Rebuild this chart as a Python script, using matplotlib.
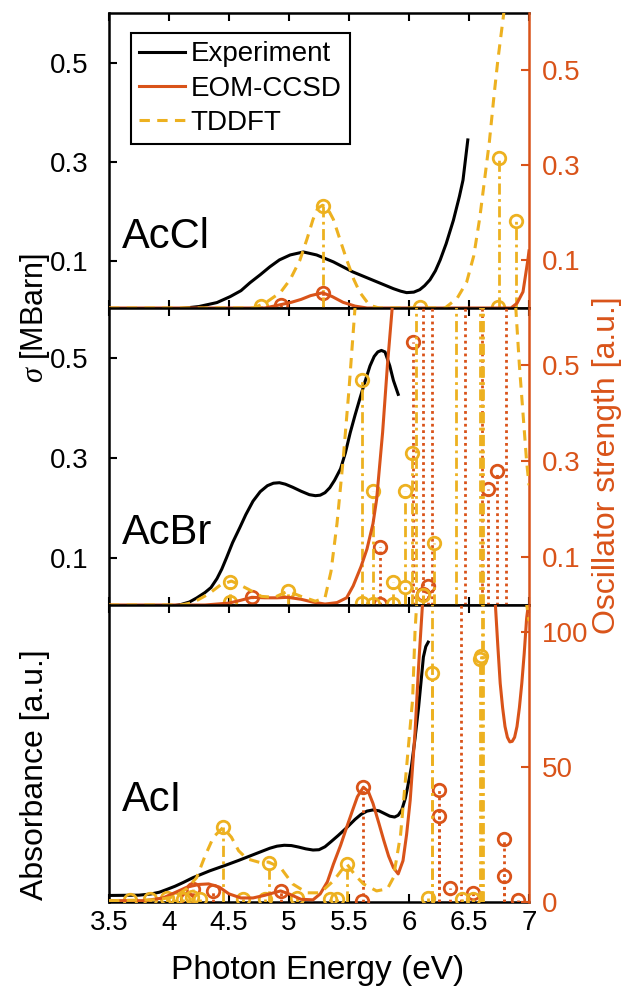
import matplotlib
matplotlib.use('Agg')
import matplotlib.pyplot as plt
from matplotlib import font_manager

plt.rcParams['font.family'] = ['Liberation Sans', 'DejaVu Sans']
plt.rcParams['mathtext.fontset'] = 'custom'
plt.rcParams['mathtext.rm'] = 'Liberation Sans'
plt.rcParams['mathtext.it'] = 'Liberation Serif:italic'
plt.rcParams['lines.solid_joinstyle'] = 'round'
plt.rcParams['lines.dash_joinstyle'] = 'round'

_installed = {f.name for f in font_manager.fontManager.ttflist}
LABEL_FONT = ['Liberation Sans Narrow', 'Liberation Sans'] if 'Liberation Sans Narrow' in _installed \
    else ['Liberation Sans']

C_EXP = 'black'
C_EOM = '#D95319'
C_TD = '#EDB120'

# ---------------- AcCl ----------------
cl_exp_E = [4.10, 4.25, 4.40, 4.51, 4.60, 4.675, 4.76, 4.84, 4.92, 5.01, 5.12, 5.23, 5.37,
            5.53, 5.73, 5.87, 5.93, 5.98, 6.04, 6.09, 6.13, 6.175, 6.22, 6.26, 6.31, 6.37,
            6.42, 6.45, 6.49]
cl_exp_s = [0.004, 0.008, 0.016, 0.028, 0.040, 0.056, 0.072, 0.088, 0.102, 0.112, 0.118, 0.112,
            0.098, 0.078, 0.058, 0.044, 0.039, 0.036, 0.037, 0.042, 0.050, 0.062, 0.080, 0.102,
            0.135, 0.182, 0.230, 0.263, 0.344]

cl_td_curve_E = [3.5, 4.70, 4.80, 4.93, 5.01, 5.09, 5.15, 5.20, 5.24, 5.28, 5.32, 5.37, 5.43,
                 5.48, 5.54, 5.59, 5.67, 5.75, 6.30, 6.40, 6.48, 6.54, 6.59, 6.63, 6.67, 6.71,
                 6.74, 6.78, 6.81]
cl_td_curve_f = [0.0, 0.0, 0.01, 0.033, 0.06, 0.10, 0.145, 0.186, 0.21, 0.216, 0.21, 0.186, 0.14,
                 0.102, 0.06, 0.033, 0.006, 0.0, 0.0, 0.02, 0.054, 0.11, 0.19, 0.27, 0.35, 0.45,
                 0.52, 0.60, 0.66]
cl_eom_curve_E = [3.5, 4.80, 4.93, 5.02, 5.10, 5.18, 5.28, 5.36, 5.45, 5.55, 5.65, 6.85, 6.90,
                  6.95, 6.99, 7.0]
cl_eom_curve_f = [0.0, 0.0, 0.007, 0.012, 0.018, 0.026, 0.032, 0.024, 0.012, 0.004, 0.0, 0.0,
                  0.01, 0.034, 0.10, 0.12]

cl_td_E = [4.77, 5.28, 6.09, 6.74, 6.75, 6.89]
cl_td_f = [0.004, 0.214, 0.002, 0.003, 0.315, 0.182]
cl_eom_E = [4.93, 5.28]
cl_eom_f = [0.006, 0.032]

# ---------------- AcBr ----------------
br_exp_E = [4.03, 4.10, 4.17, 4.23, 4.30, 4.35, 4.40, 4.44, 4.48, 4.53, 4.59, 4.64, 4.70, 4.76,
            4.82, 4.87, 4.92, 4.97, 5.03, 5.10, 5.17, 5.22, 5.26, 5.30, 5.34, 5.38, 5.43, 5.47,
            5.51, 5.55, 5.59, 5.63, 5.675, 5.71, 5.74, 5.77, 5.80, 5.84, 5.87, 5.91]
br_exp_s = [0.003, 0.006, 0.011, 0.019, 0.030, 0.040, 0.058, 0.077, 0.100, 0.130, 0.160, 0.186,
            0.213, 0.232, 0.244, 0.249, 0.250, 0.247, 0.241, 0.233, 0.226, 0.224, 0.225, 0.230,
            0.240, 0.255, 0.278, 0.310, 0.350, 0.385, 0.418, 0.450, 0.484, 0.503, 0.512, 0.515,
            0.512, 0.484, 0.455, 0.427]

br_td_curve_E = [3.5, 4.10, 4.20, 4.33, 4.43, 4.52, 4.59, 4.66, 4.77, 4.88, 4.99, 5.10, 5.22,
                 5.30, 5.35, 5.40, 5.45, 5.50, 5.55, 5.58]
br_td_curve_f = [0.0, 0.0, 0.005, 0.023, 0.042, 0.05, 0.042, 0.033, 0.018, 0.016, 0.029, 0.018,
                 0.008, 0.015, 0.07, 0.17, 0.30, 0.45, 0.62, 0.70]
br_td_tail_E = [6.88, 6.92, 6.95, 6.98, 7.0]
br_td_tail_f = [0.66, 0.50, 0.40, 0.30, 0.25]
br_eom_curve_E = [3.5, 4.30, 4.50, 4.60, 4.69, 4.80, 4.90, 4.99, 5.10, 5.20, 5.30, 5.40, 5.48,
                  5.535, 5.60, 5.65, 5.70, 5.73, 5.78, 5.82, 5.86, 5.88]
br_eom_curve_f = [0.0, 0.0, 0.004, 0.01, 0.016, 0.015, 0.015, 0.016, 0.012, 0.006, 0.002, 0.005,
                  0.015, 0.04, 0.08, 0.117, 0.17, 0.22, 0.36, 0.50, 0.62, 0.70]

br_td_E = [4.51, 4.51, 4.99, 5.61, 5.61, 5.70, 5.70, 5.87, 5.87, 5.97, 5.97, 6.025, 6.06,
           6.12, 6.21, 6.39, 6.59, 6.61, 6.62]
br_td_f = [0.048, 0.006, 0.029, 0.47, 0.004, 0.238, 0.003, 0.047, 0.002, 0.238, 0.037, 0.318,
           0.8, 0.02, 0.13, 0.8, 0.9, 0.8, 0.7]
br_eom_E = [4.69, 5.76, 5.76, 6.03, 6.12, 6.16, 6.12, 6.19, 6.47, 6.61, 6.66, 6.73, 6.81]
br_eom_f = [0.016, 0.122, 0.003, 0.548, 0.022, 0.04, 0.9, 0.9, 0.9, 0.9, 0.243, 0.28, 0.9]

# ---------------- AcI ----------------
i_exp_E = [3.5, 3.75, 3.85, 3.92, 3.98, 4.05, 4.12, 4.20, 4.34, 4.48, 4.58, 4.675, 4.77, 4.84,
           4.90, 4.96, 5.02, 5.08, 5.14, 5.20, 5.25, 5.30, 5.35, 5.41, 5.48, 5.55, 5.60, 5.65,
           5.70, 5.75, 5.80, 5.84, 5.88, 5.91, 5.94, 5.97, 5.99, 6.02, 6.05, 6.08, 6.10, 6.12,
           6.14, 6.16]
i_exp_a = [0.022, 0.023, 0.027, 0.033, 0.042, 0.053, 0.066, 0.082, 0.105, 0.125, 0.140, 0.155,
           0.170, 0.181, 0.188, 0.191, 0.190, 0.185, 0.179, 0.175, 0.176, 0.186, 0.203, 0.224,
           0.250, 0.278, 0.295, 0.306, 0.310, 0.307, 0.297, 0.289, 0.286, 0.292, 0.310, 0.350,
           0.390, 0.455, 0.550, 0.656, 0.740, 0.825, 0.860, 0.875]

i_td_curve_E = [3.5, 3.9, 4.05, 4.15, 4.23, 4.30, 4.37, 4.45, 4.52, 4.58, 4.65, 4.76, 4.83,
                4.93, 5.03, 5.15, 5.26, 5.37, 5.48, 5.55, 5.62, 5.73, 5.82, 5.87, 5.93, 5.98,
                6.03, 6.05, 6.07]
i_td_curve_v = [0.5, 0.8, 2.0, 5.0, 9.0, 17.0, 24.0, 27.6, 24.0, 19.0, 16.0, 14.6, 14.8, 12.7,
                6.7, 3.4, 3.4, 7.8, 14.2, 10.0, 6.7, 4.1, 4.9, 9.0, 25.0, 50.0, 75.0, 100.0, 115.0]
i_td_tail_E = [6.975, 7.0]
i_td_tail_v = [112.0, 104.0]
i_eom_curve_E = [3.5, 3.8, 3.95, 4.05, 4.15, 4.25, 4.33, 4.42, 4.50, 4.60, 4.70, 4.80, 4.88,
                 4.93, 5.00, 5.10, 5.20, 5.26, 5.32, 5.37, 5.43, 5.48, 5.53, 5.57, 5.62, 5.66,
                 5.70, 5.75, 5.79, 5.83, 5.87, 5.91, 5.95, 5.98, 6.01, 6.05, 6.08, 6.11, 6.13]
i_eom_curve_v = [0.5, 0.5, 1.5, 3.5, 5.5, 6.5, 6.7, 5.5, 3.0, 1.5, 1.5, 2.5, 3.5, 4.1, 3.0, 1.0,
                 0.8, 3.0, 7.5, 14.0, 21.0, 27.6, 34.0, 39.0, 42.5, 41.0, 36.5, 29.0, 22.8, 17.0,
                 12.7, 10.4, 15.3, 25.0, 37.7, 62.7, 87.3, 108.6, 120.0]
i_eom_tail_E = [6.70, 6.72, 6.74, 6.76, 6.78, 6.80, 6.82, 6.84, 6.86, 6.88, 6.90, 6.92, 6.94,
                6.96, 6.98, 7.0]
i_eom_tail_v = [125.0, 110.0, 95.0, 81.0, 72.0, 65.0, 61.0, 59.3, 59.5, 61.0, 65.0, 72.0, 81.0,
                92.0, 105.0, 112.0]

i_td_E = [3.675, 3.84, 3.98, 4.05, 4.12, 4.19, 4.26, 4.45, 4.62, 4.80, 4.83, 5.07, 5.34, 5.40,
          5.48, 6.16, 6.19, 6.19, 6.44, 6.53, 6.59, 6.60, 6.61, 6.62]
i_td_v = [0.8, 1.0, 1.5, 1.2, 1.0, 1.8, 1.2, 27.6, 1.0, 1.2, 14.6, 1.5, 1.0, 1.2, 14.2, 1.5,
          85.0, 150.0, 1.2, 1.0, 90.0, 91.0, 200.0, 150.0]
i_eom_E = [4.15, 4.20, 4.37, 4.93, 5.61, 5.62, 6.25, 6.25, 6.34, 6.43, 6.53, 6.79, 6.79, 6.91]
i_eom_v = [1.0, 5.0, 4.0, 4.1, 0.5, 42.5, 41.4, 31.7, 5.2, 200.0, 3.4, 23.5, 9.7, 0.8]

xticks = [3.5, 4, 4.5, 5, 5.5, 6, 6.5, 7]
xticklabels = ['3.5', '4', '4.5', '5', '5.5', '6', '6.5', '7']

panels = [
    dict(name='AcCl', exp=(cl_exp_E, cl_exp_s),
         td_curves=[(cl_td_curve_E, cl_td_curve_f)], eom_curves=[(cl_eom_curve_E, cl_eom_curve_f)],
         td=(cl_td_E, cl_td_f), eom=(cl_eom_E, cl_eom_f),
         ylim=(0.005, 0.6), rlim=(0, 0.62), yticks=[0.1, 0.3, 0.5], rticks=[0.1, 0.3, 0.5],
         rticklabels=['0.1', '0.3', '0.5'], label_y=237),
    dict(name='AcBr', exp=(br_exp_E, br_exp_s),
         td_curves=[(br_td_curve_E, br_td_curve_f), (br_td_tail_E, br_td_tail_f)],
         eom_curves=[(br_eom_curve_E, br_eom_curve_f)],
         td=(br_td_E, br_td_f), eom=(br_eom_E, br_eom_f),
         ylim=(0.005, 0.6), rlim=(0, 0.62), yticks=[0.1, 0.3, 0.5], rticks=[0.1, 0.3, 0.5],
         rticklabels=['0.1', '0.3', '0.5'], label_y=533),
    dict(name='AcI', exp=(i_exp_E, i_exp_a),
         td_curves=[(i_td_curve_E, i_td_curve_v), (i_td_tail_E, i_td_tail_v)],
         eom_curves=[(i_eom_curve_E, i_eom_curve_v), (i_eom_tail_E, i_eom_tail_v)],
         td=(i_td_E, i_td_v), eom=(i_eom_E, i_eom_v),
         ylim=(0, 1), rlim=(0, 110), yticks=[], rticks=[0, 50, 100],
         rticklabels=['0', '50', '100'], label_y=800),
]

W_PX, H_PX = 629, 992
fig = plt.figure(figsize=(W_PX / 100, H_PX / 100), dpi=100)
left_px, right_px = 109, 529
bounds_px = [(13, 308), (308, 605), (605, 902)]

DASH = (0, (3.4, 2.4))
DASHDOT = (0, (4.0, 1.6, 1.0, 1.6))
DOT = (0, (1.0, 1.3))
LW = 2.2

legend_handles = None
top_axes = None
for i, (p, (ty, by)) in enumerate(zip(panels, bounds_px)):
    ax = fig.add_axes([left_px / W_PX, 1 - by / H_PX, (right_px - left_px) / W_PX, (by - ty) / H_PX])
    axr = ax.twinx()

    h_exp, = ax.plot(p['exp'][0], p['exp'][1], color=C_EXP, lw=LW, zorder=3)

    # stick spectra
    axr.vlines(p['eom'][0], 0, p['eom'][1], colors=C_EOM, linestyles=DOT, lw=2.0, zorder=2)
    axr.plot(p['eom'][0], p['eom'][1], 'o', ms=9, mfc='none', mec=C_EOM, mew=2.0, zorder=2)
    axr.vlines(p['td'][0], 0, p['td'][1], colors=C_TD, linestyles=DASHDOT, lw=2.0, zorder=2)
    axr.plot(p['td'][0], p['td'][1], 'o', ms=9, mfc='none', mec=C_TD, mew=2.0, zorder=2)

    # broadened spectra
    for E, v in p['eom_curves']:
        h_eom, = axr.plot(E, v, color=C_EOM, lw=LW, zorder=3)
    for E, v in p['td_curves']:
        h_td, = axr.plot(E, v, color=C_TD, lw=LW, ls=DASH, zorder=3)

    ax.set_xlim(3.5, 7)
    ax.set_ylim(*p['ylim'])
    axr.set_ylim(*p['rlim'])
    ax.set_xticks(xticks)
    ax.set_xticklabels(xticklabels)
    ax.set_yticks(p['yticks'])
    ax.set_yticklabels([f'{t:g}' for t in p['yticks']])
    axr.set_yticks(p['rticks'])
    axr.set_yticklabels(p['rticklabels'])

    ax.tick_params(axis='x', direction='in', top=True, bottom=True, length=6, width=1.5,
                   labelsize=20, pad=6, labelbottom=(i == 2))
    ax.tick_params(axis='y', direction='in', length=6, width=1.5, labelsize=20, pad=15,
                   colors='k')
    axr.tick_params(axis='y', direction='in', length=6, width=1.5, labelsize=20, pad=9,
                    colors=C_EOM)

    for s in ['left', 'top', 'bottom']:
        ax.spines[s].set_linewidth(1.8)
        ax.spines[s].set_color('k')
        axr.spines[s].set_visible(False)
    ax.spines['right'].set_visible(False)
    axr.spines['right'].set_color(C_EOM)
    axr.spines['right'].set_linewidth(1.8)

    ax.text(122 / W_PX, 1 - p['label_y'] / H_PX, p['name'], transform=fig.transFigure,
            fontsize=30, ha='left', va='center', zorder=10)

    if i == 0:
        legend_handles = [h_exp, h_eom, h_td]
        top_axes = axr

leg = top_axes.legend(legend_handles, ['Experiment', 'EOM-CCSD', 'TDDFT'],
                      loc='upper left', bbox_to_anchor=(22 / 420, 1 - 20 / 295),
                      borderaxespad=0, fontsize=20, frameon=True, fancybox=False,
                      edgecolor='black', framealpha=1, handlelength=1.65,
                      handletextpad=0.2, labelspacing=0.3, borderpad=0.3)
leg.get_frame().set_linewidth(1.5)
leg.set_zorder(20)

fig.text(35 / W_PX, 1 - 318 / H_PX, r'$\sigma$ [MBarn]', rotation=90, fontsize=22,
         ha='center', va='center', family=LABEL_FONT)
fig.text(35 / W_PX, 1 - 775 / H_PX, 'Absorbance [a.u.]', rotation=90, fontsize=23,
         ha='center', va='center', family=LABEL_FONT)
fig.text(607 / W_PX, 1 - 465 / H_PX, 'Oscillator strength [a.u.]', rotation=90, fontsize=23,
         ha='center', va='center', color=C_EOM, family=LABEL_FONT)
fig.text(318 / W_PX, 1 - 970 / H_PX, 'Photon Energy (eV)', fontsize=24,
         ha='center', va='center')

fig.savefig('out.png', dpi=100)
